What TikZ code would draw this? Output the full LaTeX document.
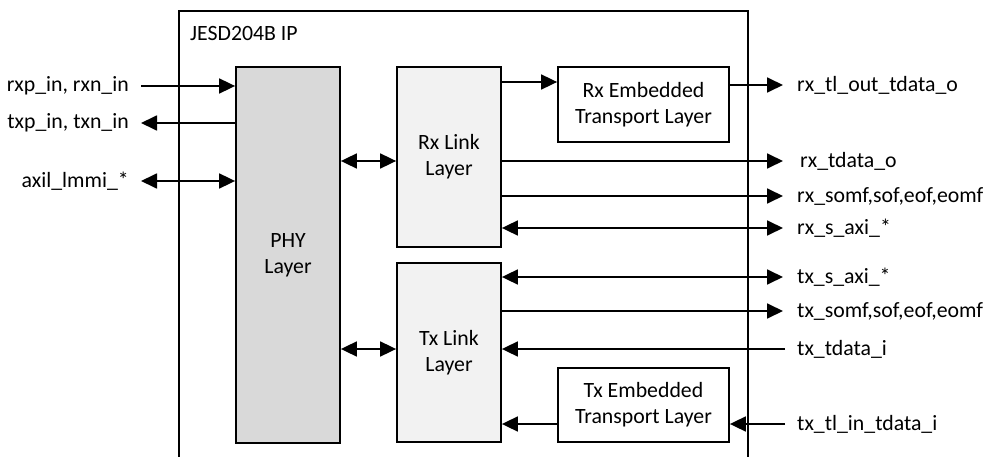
\documentclass[tikz,border=0pt]{standalone}
\usepackage{fontspec}
\setmainfont{Carlito}
\usetikzlibrary{arrows.meta}
\definecolor{phygray}{HTML}{D9D9D9}
\definecolor{linkgray}{HTML}{F2F2F2}
\begin{document}
\begin{tikzpicture}[x=1pt,y=-1pt,
  every node/.style={font=\fontsize{21.8}{26}\selectfont},
  blk/.style={draw,line width=1.8pt,inner sep=0pt,align=center},
  wire/.style={line width=1.8pt},
  sig/.style={wire,-{Triangle[length=16pt,width=15pt]}},
  bidir/.style={wire,{Triangle[length=16pt,width=15pt]}-{Triangle[length=16pt,width=15pt]}},
  lbl/.style={inner sep=0pt},
]
\useasboundingbox (0,0) rectangle (987,457);

% IP boundary (open at the bottom)
\draw[line width=1.8pt] (179,457) -- (179,11) -- (748,11) -- (748,457);
\node[lbl,anchor=west] (ip) at (190,34) {JESD204B IP};

% functional blocks
\node[blk,fill=phygray,minimum width=104pt,minimum height=376pt] (phy) at (288,255) {PHY\\Layer};
\node[blk,fill=linkgray,minimum width=104pt,minimum height=180pt] (rxl) at (449,157) {Rx Link\\Layer};
\node[blk,fill=linkgray,minimum width=104pt,minimum height=179pt] (txl) at (449,352.5) {Tx Link\\Layer};
\node[blk,fill=white,minimum width=171pt,minimum height=75pt] (rxe) at (643.5,104.5) {Rx Embedded\\Transport Layer};
\node[blk,fill=white,minimum width=171pt,minimum height=74pt] (txe) at (643.5,405) {Tx Embedded\\Transport Layer};

% serial / management ports on the left
\coordinate (pL1) at (141,86);
\coordinate (pL2) at (141,123);
\coordinate (pL3) at (141,181);
\node[lbl,anchor=east] (l1) at (129,86) {rxp\_in, rxn\_in};
\node[lbl,anchor=east] (l2) at (129,123) {txp\_in, txn\_in};
\node[lbl,anchor=east] (l3) at (129,181) {axil\_lmmi\_*};
\draw[sig] (pL1) -- (phy.west |- pL1);
\draw[sig] (phy.west |- pL2) -- (pL2);
\draw[bidir] (pL3) -- (phy.west |- pL3);

% PHY to link layers
\coordinate (mRx) at (0,161);
\coordinate (mTx) at (0,349);
\draw[bidir] (phy.east |- mRx) -- (rxl.west |- mRx);
\draw[bidir] (phy.east |- mTx) -- (txl.west |- mTx);

% receive side ports
\coordinate (r0) at (783,85);
\coordinate (r1) at (783,161);
\coordinate (r2) at (783,196);
\coordinate (r3) at (783,228);
\coordinate (rxin) at (0,82);
\draw[sig] (rxl.east |- rxin) -- (rxe.west |- rxin);
\draw[sig] (rxe.east |- r0) -- (r0);
\draw[sig] (rxl.east |- r1) -- (r1);
\draw[sig] (rxl.east |- r2) -- (r2);
\draw[bidir] (rxl.east |- r3) -- (r3);
\node[lbl,anchor=west] (n0) at (797,85) {rx\_tl\_out\_tdata\_o};
\node[lbl,anchor=west] (n1) at (800,161) {rx\_tdata\_o};
\node[lbl,anchor=west] (n2) at (797,196) {rx\_somf,sof,eof,eomf};
\node[lbl,anchor=west] (n3) at (797,228) {rx\_s\_axi\_*};

% transmit side ports
\coordinate (t0) at (783,277);
\coordinate (t1) at (783,311);
\coordinate (t2) at (785,349);
\coordinate (t3) at (785,424);
\draw[bidir] (txl.east |- t0) -- (t0);
\draw[sig] (txl.east |- t1) -- (t1);
\draw[sig] (t2) -- (txl.east |- t2);
\draw[sig] (txe.west |- t3) -- (txl.east |- t3);
\draw[sig] (t3) -- (txe.east |- t3);
\node[lbl,anchor=west] (m0) at (797,277) {tx\_s\_axi\_*};
\node[lbl,anchor=west] (m1) at (797,311) {tx\_somf,sof,eof,eomf};
\node[lbl,anchor=west] (m2) at (797,349) {tx\_tdata\_i};
\node[lbl,anchor=west] (m3) at (797,424) {tx\_tl\_in\_tdata\_i};
\end{tikzpicture}
\end{document}
